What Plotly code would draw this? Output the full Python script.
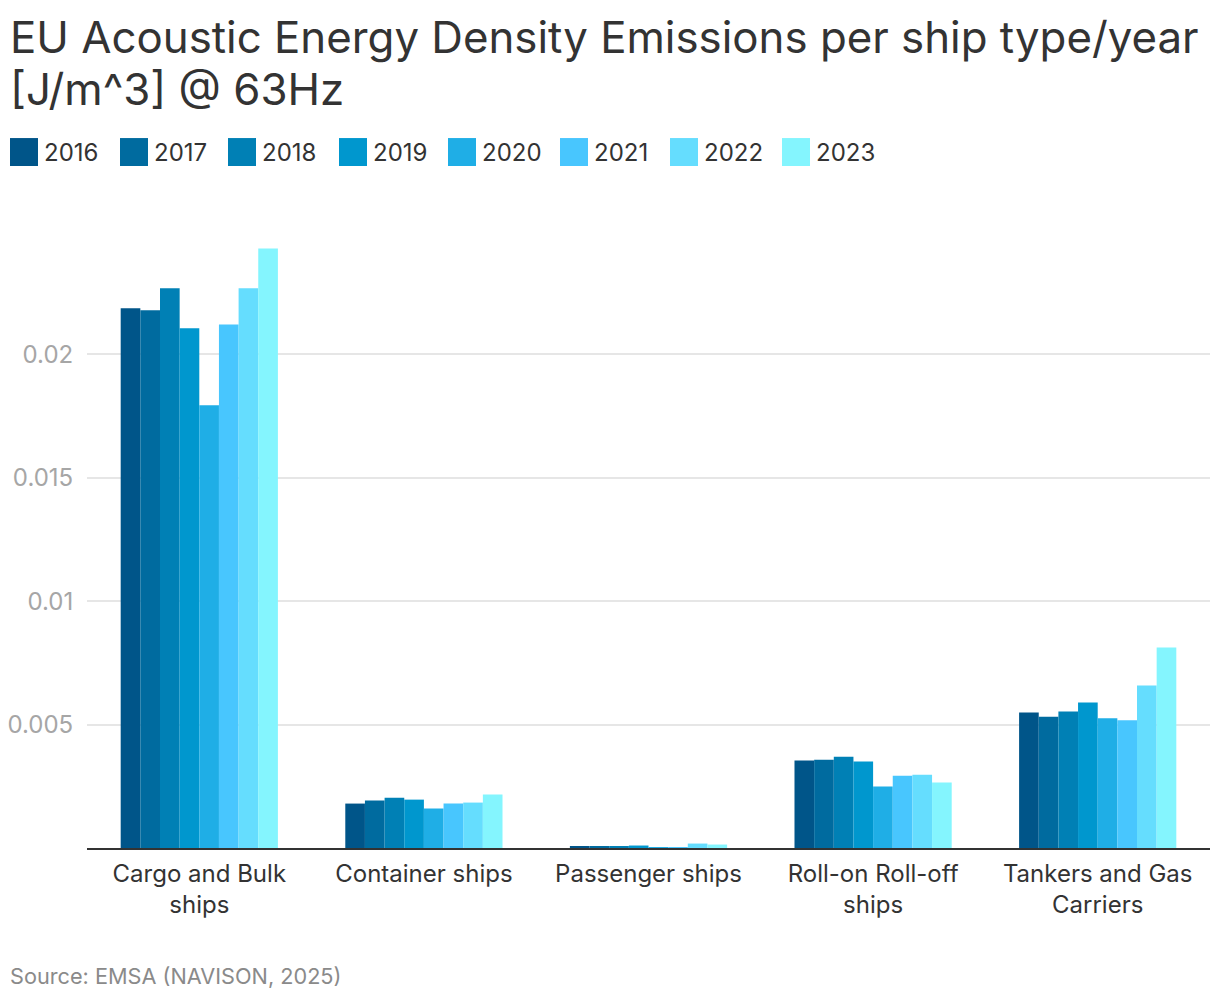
import plotly.graph_objects as go

categories = ["Cargo and Bulk<br>ships", "Container ships", "Passenger ships",
              "Roll-on Roll-off<br>ships", "Tankers and Gas<br>Carriers"]
years = ["2016", "2017", "2018", "2019", "2020", "2021", "2022", "2023"]

v2016 = [0.02186, 0.00180, 0.00005, 0.00354, 0.00549]
v2017 = [0.02178, 0.00192, 0.00005, 0.00358, 0.00532]
v2018 = [0.02267, 0.00204, 0.00005, 0.00370, 0.00553]
v2019 = [0.02105, 0.00196, 0.00010, 0.00350, 0.00589]
v2020 = [0.01794, 0.00160, 0.00002, 0.00249, 0.00526]
v2021 = [0.02121, 0.00180, 0.00002, 0.00293, 0.00518]
v2022 = [0.02267, 0.00184, 0.00018, 0.00297, 0.00658]
v2023 = [0.02429, 0.00217, 0.00014, 0.00265, 0.00812]
series = [v2016, v2017, v2018, v2019, v2020, v2021, v2022, v2023]

colors = ["#005589", "#006B9F", "#0080B5", "#0097CE", "#1FAEE6",
          "#48C6FE", "#65DDFE", "#84F5FE"]

title_lines = ["EU Acoustic Energy Density Emissions per ship type/year", "[J/m^3] @ 63Hz"]
source_text = "Source: EMSA (NAVISON, 2025)"

W, H = 1220, 1004
ML, MR, MT, MB = 87, 10, 200, 155.5

fig = go.Figure()
for name, vals, col in zip(years, series, colors):
    fig.add_trace(go.Bar(x=categories, y=vals, name=name, marker_color=col,
                         marker_line_width=0, showlegend=False))

pw = W - ML - MR
ph = H - MT - MB
def px(x):
    return (x - ML) / pw
def py(y):
    return (H - MB - y) / ph

shapes = []
annotations = []
legend_x = [10, 120, 228, 339, 448, 560, 670, 782]
sq = 28
for lx, name, col in zip(legend_x, years, colors):
    shapes.append(dict(type="rect", xref="paper", yref="paper",
                       x0=px(lx), x1=px(lx + sq), y0=py(166), y1=py(138),
                       fillcolor=col, line_width=0))
    annotations.append(dict(text=name, xref="paper", yref="paper",
                            x=px(lx + sq + 4), y=py(152), xanchor="left",
                            yanchor="middle", showarrow=False,
                            font=dict(family="Inter", size=24, color="#333333")))

for line, yc in zip(title_lines, [37, 89]):
    annotations.append(dict(text=line, xref="paper", yref="paper",
                            x=px(8), y=py(yc), xanchor="left", yanchor="middle",
                            showarrow=False,
                            font=dict(family="Inter", size=43.8, color="#333333")))

annotations.append(dict(text=source_text, xref="paper", yref="paper",
                        x=px(8), y=py(977), xanchor="left", yanchor="middle",
                        showarrow=False,
                        font=dict(family="Inter", size=21.7, color="#8a8a8a")))

fig.update_layout(
    width=W, height=H,
    margin=dict(l=ML, r=MR, t=MT, b=MB, autoexpand=False),
    paper_bgcolor="white", plot_bgcolor="white",
    font=dict(family="Inter", color="#333333"),
    barmode="group", bargap=0.3, bargroupgap=0,
    shapes=shapes, annotations=annotations,
    xaxis=dict(showline=True, linecolor="#333333", linewidth=2,
               tickfont=dict(family="Inter", size=24, color="#333333"),
               ticks="outside", ticklen=3, tickcolor="rgba(0,0,0,0)",
               showgrid=False, zeroline=False),
    yaxis=dict(range=[0, 0.02625], tickvals=[0.005, 0.01, 0.015, 0.02],
               ticktext=["0.005", "0.01", "0.015", "0.02"],
               showgrid=True, gridcolor="#e6e6e6", gridwidth=2,
               zeroline=False, showline=False,
               tickfont=dict(family="Inter", size=24, color="#a6a6a6"),
               ticks="outside", ticklen=8, tickcolor="rgba(0,0,0,0)"),
)

fig.write_html("out.html", config={"displayModeBar": False},
               post_script="document.body.style.margin='0';")
